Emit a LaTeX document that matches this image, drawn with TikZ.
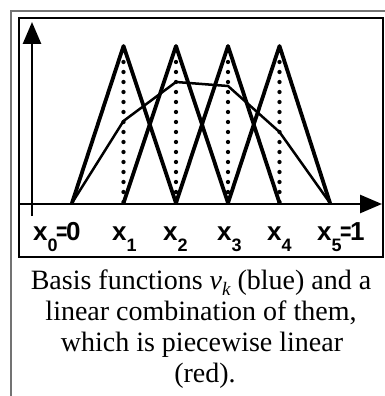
\documentclass[tikz,border=0pt]{standalone}
\usepackage{fontspec}
\setmainfont{Liberation Serif}
\newfontfamily\labfont{Liberation Sans}
\usetikzlibrary{arrows.meta}
\newcommand{\xlab}[2]{{\labfont\bfseries\fontsize{26}{26}\selectfont x\raisebox{-11pt}{\fontsize{18}{18}\selectfont #1}#2}}
\newcommand{\eqsign}{\kern-1.5pt\scalebox{0.75}[1]{=}\kern-1.5pt}
\tikzset{
  hat/.style={line width=3.8pt, line join=round, line cap=round},
  combo/.style={line width=2.5pt, line join=round, line cap=round},
  axis/.style={line width=2.6pt, -{Triangle[length=22pt,width=18pt]}},
  dots/.style={line width=4.3pt, line cap=round, dash pattern=on 0pt off 10pt},
  frame/.style={line width=1.1pt},
  lab/.style={anchor=base west, inner sep=0pt},
  captext/.style={anchor=base, inner sep=0pt, text height=19pt, text depth=3pt, font=\fontsize{28}{30}\selectfont}
}
\begin{document}
\begin{tikzpicture}[x=1pt,y=-1pt]
\useasboundingbox (0,0) rectangle (385,396);
% frames
\draw[frame, black!55] (11,396) -- (11,11) -- (385,11);
\draw[frame] (19,18) rectangle (383,257);
% points
\foreach \i/\x in {0/72,1/123.5,2/176,3/228,4/279.5,5/330}{
  \coordinate (b\i) at (\x,203);
  \coordinate (t\i) at (\x,46);
  \coordinate (d\i) at (\x,62);
}
\coordinate (yb) at (32,216);
\coordinate (yt) at (32,22);
\coordinate (xb) at (19,204);
\coordinate (xt) at (382,204);
% axes
\draw[axis] (yb) -- (yt);
\draw[axis] (xb) -- (xt);
% dotted verticals
\foreach \i in {1,2,3,4}{ \draw[dots] (d\i) -- (b\i); }
% hat functions
\draw[hat] (b0) -- (t1) -- (b2);
\draw[hat] (b1) -- (t2) -- (b3);
\draw[hat] (b2) -- (t3) -- (b4);
\draw[hat] (b3) -- (t4) -- (b5);
% linear combination
\coordinate (r1) at (123.5,121);
\coordinate (r2) at (176,82);
\coordinate (r3) at (228,86);
\coordinate (r4) at (279.5,132);
\draw[combo] (b0) -- (r1) -- (r2) -- (r3) -- (r4) -- (b5);
% labels
\node[lab] (l0) at (33,240) {\xlab{0}{\eqsign 0}};
\node[lab] (l1) at (112,240) {\xlab{1}{}};
\node[lab] (l2) at (163,240) {\xlab{2}{}};
\node[lab] (l3) at (217,240) {\xlab{3}{}};
\node[lab] (l4) at (267,240) {\xlab{4}{}};
\node[lab] (l5) at (317,240) {\xlab{5}{\eqsign 1}};
% caption
\node[captext] (c1) at (201,289) {Basis functions \textit{v}\raisebox{-6pt}{\fontsize{19}{19}\selectfont\itshape k} (blue) and a};
\node[captext] (c2) at (201,320) {linear combination of them,};
\node[captext] (c3) at (202,351) {which is piecewise linear};
\node[captext] (c4) at (205,382) {(red).};
\end{tikzpicture}
\end{document}
